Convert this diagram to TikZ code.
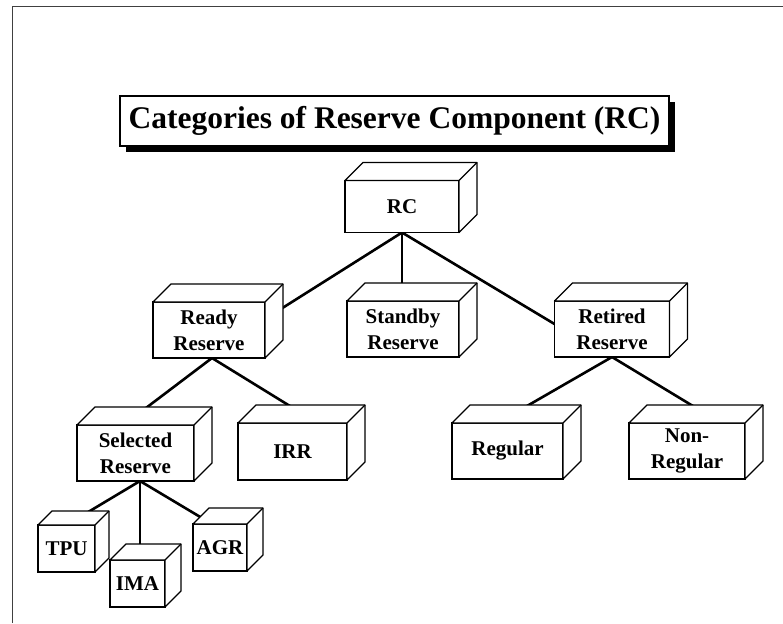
\documentclass[tikz,border=0pt]{standalone}
\usepackage{fontspec}
\setmainfont{Liberation Serif}
\pgfdeclarelayer{bg}
\pgfsetlayers{bg,main}
\tikzset{
  cubebox/.style={draw, fill=white, line width=1.3pt, outer sep=0pt, inner sep=0pt,
    align=center, font=\bfseries\fontsize{21}{26}\selectfont},
  cubeface/.style={draw, fill=white, line width=1.3pt, line join=round},
  link/.style={line width=2.6pt},
  titlebox/.style={draw, fill=white, line width=1.2pt, outer sep=0pt, inner sep=0pt,
    font=\bfseries\fontsize{31.5}{36}\selectfont},
  frameline/.style={line width=0.9pt, black!75},
}
\newcommand\cubenode[7]{%
  \node[cubebox, minimum width=#4pt, minimum height=#5pt] (#1) at (#2,#3) {#7};
  \path[cubeface] (#1.north west) -- ++(#6,-#6) -- ([shift={(#6,-#6)}]#1.north east)
    -- ([shift={(#6,-#6)}]#1.south east) -- (#1.south east) -- (#1.north east) -- cycle;
  \draw[line width=1.3pt] (#1.north east) -- ++(#6,-#6);
}
\begin{document}
\begin{tikzpicture}[x=1pt,y=-1pt]
\useasboundingbox (0,0) rectangle (783,623);
% frame
\draw[frameline] (12,623) -- (12,6) -- (783,6);
% title
\node[titlebox, minimum width=549pt, minimum height=50pt] (title) at (394.5,121) {Categories of Reserve Component (RC)};
% boxes
\cubenode{RC}{402}{206.5}{114}{52}{18}{RC}
\cubenode{Ready}{209}{330}{112}{56}{18}{Ready\\Reserve}
\cubenode{Standby}{403}{329}{112}{56}{18}{Standby\\Reserve}
\cubenode{Retired}{612}{329}{115}{56}{18}{Retired\\Reserve}
\cubenode{Selected}{135.5}{453}{117}{56}{18}{Selected\\Reserve}
\cubenode{IRR}{292.5}{451.5}{109}{57}{18}{IRR}
\cubenode{Regular}{507.5}{451}{111}{56}{18}{Regular}
\cubenode{NonReg}{687}{451}{116}{56}{18}{Non-\\Regular}
\cubenode{TPU}{66.5}{548.5}{57}{47}{14}{TPU}
\cubenode{IMA}{137.5}{583.5}{55}{47}{16}{IMA}
\cubenode{AGR}{220}{547.5}{54}{47}{16}{AGR}
\begin{pgfonlayer}{bg}
  \fill ([shift={(6,6)}]title.north west) rectangle ([shift={(6,6)}]title.south east);
  \draw[link] (RC.south) -- ([yshift=11pt]Ready.east);
  \draw[link] (RC.south) -- (RC.south |- Standby.north);
  \draw[link] (RC.south) -- ([yshift=5pt]Retired.west);
  \coordinate (rj) at ([xshift=3pt]Ready.south);
  \draw[link] (rj) -- ([xshift=-12pt]Selected.north);
  \draw[link] (rj) -- ([xshift=25pt]IRR.north);
  \coordinate (sj) at ([xshift=4.5pt]Selected.south);
  \draw[link] (sj) -- (TPU.north);
  \draw[link] (sj) -- (sj |- IMA.north);
  \draw[link] (sj) -- ([xshift=-8pt]AGR.north);
  \draw[link] (Retired.south) -- ([xshift=-10pt]Regular.north);
  \draw[link] (Retired.south) -- ([xshift=34pt]NonReg.north);
\end{pgfonlayer}
\end{tikzpicture}
\end{document}
